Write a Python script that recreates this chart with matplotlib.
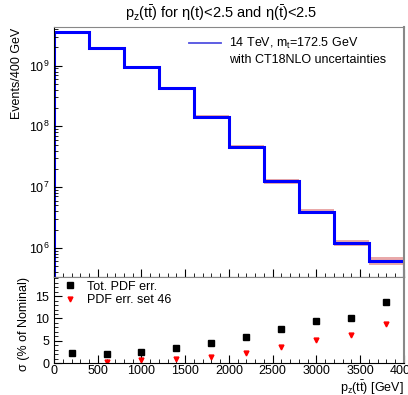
import numpy as np
import matplotlib.pyplot as plt
from matplotlib.lines import Line2D
from matplotlib.ticker import MultipleLocator, LogLocator, NullFormatter

plt.rcParams['font.family'] = ['Liberation Sans', 'DejaVu Sans']
plt.rcParams['mathtext.fontset'] = 'custom'
plt.rcParams['mathtext.rm'] = 'Liberation Sans'
plt.rcParams['mathtext.it'] = 'Liberation Sans'

# pz(ttbar) binning, 400 GeV wide bins
bin_edges = np.arange(0, 4001, 400)
bin_centers = 0.5 * (bin_edges[:-1] + bin_edges[1:])

# nominal events per bin
nominal = [3.6e9, 1.94e9, 9.6e8, 4.25e8, 1.45e8, 4.6e7, 1.24e7, 3.95e6, 1.21e6, 6.1e5]

# relative PDF uncertainties (% of nominal)
tot_pdf_err = [2.2, 2.0, 2.4, 3.3, 4.4, 5.9, 7.7, 9.5, 10.2, 13.7]
set46_err = [np.nan, 0.2, 0.6, 0.8, 1.3, 2.3, 3.6, 5.2, 6.2, 8.8]

nominal = np.array(nominal)
tot = np.array(tot_pdf_err) / 100.0

fig = plt.figure(figsize=(4.08, 3.95), dpi=100)
ax1 = fig.add_axes([0.1324, 0.2987, 0.8576, 0.6323])
ax2 = fig.add_axes([0.1324, 0.081, 0.8576, 0.2177])

# uncertainty band + nominal histogram
up = np.append(nominal * (1 + tot), nominal[-1] * (1 + tot[-1]))
dn = np.append(nominal * (1 - tot), nominal[-1] * (1 - tot[-1]))
ax1.fill_between(bin_edges, dn, up, step='post', color='#d04040', alpha=0.45, lw=0)
ax1.stairs(nominal, bin_edges, color='#0000ff', lw=2.2)

ax1.set_yscale('log')
ax1.set_xlim(0, 4000)
ax1.set_ylim(3.3e5, 4.3e9)
ax1.yaxis.set_major_locator(LogLocator(base=10, numticks=10))
ax1.yaxis.set_minor_locator(LogLocator(base=10, subs=np.arange(2, 10), numticks=10))
ax1.yaxis.set_minor_formatter(NullFormatter())
ax1.xaxis.set_major_locator(MultipleLocator(500))
ax1.xaxis.set_minor_locator(MultipleLocator(100))
ax1.tick_params(axis='x', labelbottom=False)
ax1.set_ylabel('Events/400 GeV', fontsize=9, loc='top')
fig.text(221 / 408, 1 - 13 / 395,
         r'p$_{z}$(t$\bar{\rm t}$) for $\eta$(t)<2.5 and $\eta$($\bar{\rm t}$)<2.5',
         fontsize=10.5, ha='center', va='center')

legend_line = Line2D([], [], color='#5050e0', lw=1.3)
ax1.legend([legend_line], ['14 TeV, m$_{t}$=172.5 GeV'], loc='upper left',
           bbox_to_anchor=(0.36, 1.0), frameon=False, fontsize=9,
           handlelength=2.6, handletextpad=0.6, borderaxespad=0.3)
ax1.text(0.50, 0.855, 'with CT18NLO uncertainties', transform=ax1.transAxes, fontsize=9)

# ratio panel
ax2.plot(bin_centers, tot_pdf_err, 's', color='black', ms=4.5, label='Tot. PDF err.')
ax2.plot(bin_centers, set46_err, 'v', color='red', ms=3.5, label='PDF err. set 46')
ax2.set_xlim(0, 4000)
ax2.set_ylim(0, 19.3)
ax2.xaxis.set_major_locator(MultipleLocator(500))
ax2.xaxis.set_minor_locator(MultipleLocator(100))
ax2.yaxis.set_major_locator(MultipleLocator(5))
ax2.yaxis.set_minor_locator(MultipleLocator(1))
ax2.set_ylabel('σ (% of Nominal)', fontsize=9, loc='top')
ax2.set_xlabel(r'p$_{z}$(t$\bar{\rm t}$) [GeV]', fontsize=9, loc='right', labelpad=1)
ax2.legend(loc='upper left', frameon=False, fontsize=9, handletextpad=0.3,
           borderaxespad=0.1, labelspacing=0.1, borderpad=0.2)

for ax in (ax1, ax2):
    ax.tick_params(which='both', direction='in', labelsize=9, top=False, right=False)
    ax.tick_params(which='major', length=6)
    ax.tick_params(which='minor', length=3)
    ax.tick_params(axis='x', pad=1.5)
    ax.spines['top'].set_color('#888888')
    ax.spines['right'].set_color('#888888')
    ax.spines['right'].set_linewidth(1.5)

fig.savefig('out.png', dpi=100)
